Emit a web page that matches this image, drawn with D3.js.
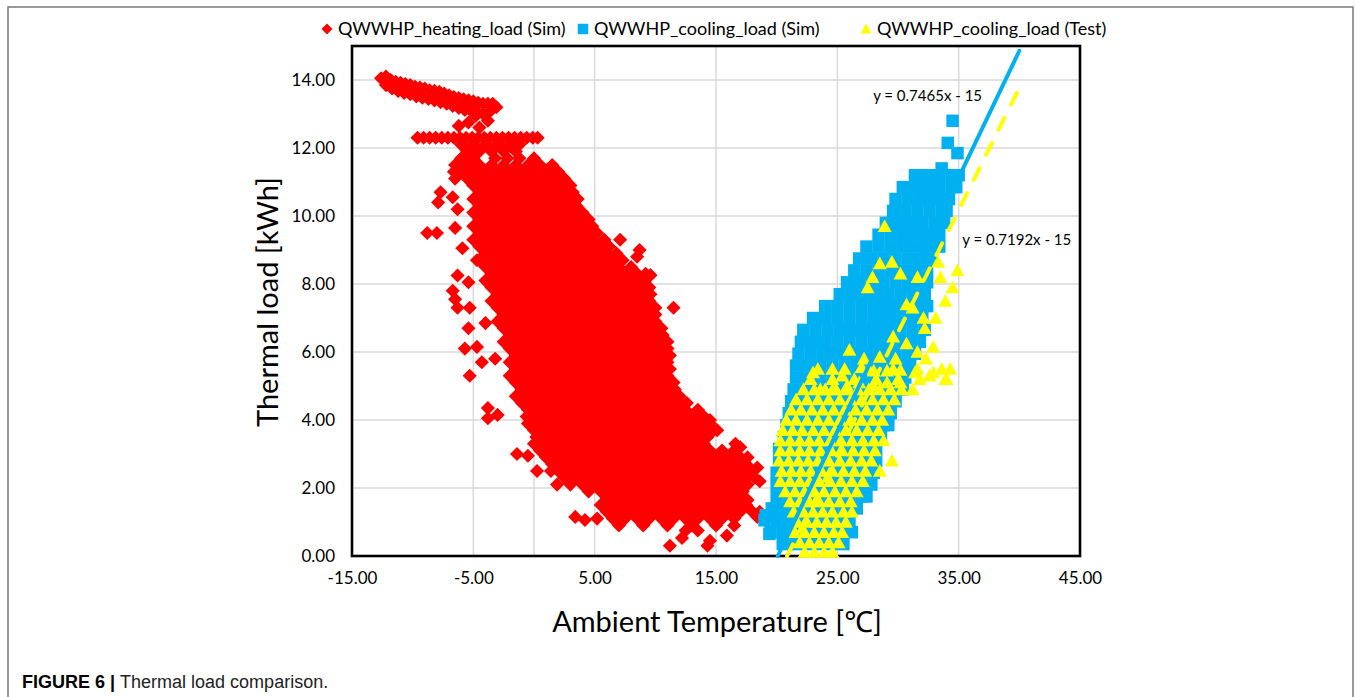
<!DOCTYPE html>
<html>
<head>
<meta charset="utf-8">
<script src="https://cdn.jsdelivr.net/npm/d3@7"></script>
<style>
body { margin: 0; background: #fff; }
svg { display: block; font-family: Lato, "Noto Sans", sans-serif; }
</style>
</head>
<body>
<svg width="1356" height="697"></svg>
<script>
var xTicks = [-15, -5, 5, 15, 25, 35, 45];
var yTicks = [0, 2, 4, 6, 8, 10, 12, 14];
var seriesNames = ["QWWHP_heating_load (Sim)", "QWWHP_cooling_load (Sim)", "QWWHP_cooling_load (Test)"];
var seriesColors = ["#ff0000", "#00b0f0", "#ffff00"];
var trendSlopes = [0.7465, 0.7192];
var trendIntercepts = [-15, -15];
var trendEndX = 40;
var trendLabels = ["y = 0.7465x - 15", "y = 0.7192x - 15"];

// heating load (Sim): rows of [load, temperatures]
var heatRows = [
  [12.3, [-9.6,-9.1,-8.6,-8.1,-7.6,-7.1,-6.6,-6.1,-5.6,-5.1,-4.6,-4.1,-3.6,-3.1,-2.6,-2.1,-1.6,-1.1,-0.6,-0.1,0.3]],
  [12.1, [-6,-5,-4,-3,-2,-1.2]],
  [11.9, [-5.5,-4.5,-3.5,-2.5,-1.5]],
  [11.7, [-6,-5,-3.2,-2.2,-1.2,0]],
  [11.5, [-6.5,-5.5,-4.5,-3.5,-2.5,-1.5,-0.5,0.5,1.5]],
  [11.3, [-6.6,-6,-5,-4,-3,-2,-1,0,1,2]],
  [11.1, [-6.5,-5.5,-4.5,-3.5,-2.5,-1.5,-0.5,0.5,1.5,2.5]],
  [10.9, [-5,-4,-3,-2,-1,0,1,2,3]],
  [10.7, [-4.5,-3.5,-2.5,-1.5,-0.5,0.5,1.5,2.5,3.2]],
  [10.5, [-5,-4,-3,-2,-1,0,1,2,3,3.6]],
  [10.3, [-4.5,-3.5,-2.5,-1.5,-0.5,0.5,1.5,2.5,3.5]],
  [10.1, [-5,-4,-3,-2,-1,0,1,2,3,4]],
  [9.9, [-4.5,-3.5,-2.5,-1.5,-0.5,0.5,1.5,2.5,3.5,4.5]],
  [9.7, [-5,-4,-3,-2,-1,0,1,2,3,4,4.8]],
  [9.5, [-4.5,-3.5,-2.5,-1.5,-0.5,0.5,1.5,2.5,3.5,4.5,5.2]],
  [9.3, [-5,-4,-3,-2,-1,0,1,2,3,4,5,5.8]],
  [9.1, [-4.5,-3.5,-2.5,-1.5,-0.5,0.5,1.5,2.5,3.5,4.5,5.5,6.2]],
  [8.9, [-4,-3,-2,-1,0,1,2,3,4,5,6,6.8]],
  [8.7, [-4.5,-3.5,-2.5,-1.5,-0.5,0.5,1.5,2.5,3.5,4.5,5.5,6.5,7.3]],
  [8.5, [-4,-3,-2,-1,0,1,2,3,4,5,6,7,8]],
  [8.3, [-3.5,-2.5,-1.5,-0.5,0.5,1.5,2.5,3.5,4.5,5.5,6.5,7.5,8.5,9.2]],
  [8.1, [-4,-3,-2,-1,0,1,2,3,4,5,6,7,8,9]],
  [7.9, [-3.5,-2.5,-1.5,-0.5,0.5,1.5,2.5,3.5,4.5,5.5,6.5,7.5,8.5,9.5]],
  [7.7, [-3,-2,-1,0,1,2,3,4,5,6,7,8,9,9.6]],
  [7.5, [-3.5,-2.5,-1.5,-0.5,0.5,1.5,2.5,3.5,4.5,5.5,6.5,7.5,8.5,9.5]],
  [7.3, [-3,-2,-1,0,1,2,3,4,5,6,7,8,9,10]],
  [7.1, [-2.5,-1.5,-0.5,0.5,1.5,2.5,3.5,4.5,5.5,6.5,7.5,8.5,9.5,10]],
  [6.9, [-3,-2,-1,0,1,2,3,4,5,6,7,8,9,10]],
  [6.7, [-2.5,-1.5,-0.5,0.5,1.5,2.5,3.5,4.5,5.5,6.5,7.5,8.5,9.5,10.5]],
  [6.5, [-2,-1,0,1,2,3,4,5,6,7,8,9,10,10.6]],
  [6.3, [-2.5,-1.5,-0.5,0.5,1.5,2.5,3.5,4.5,5.5,6.5,7.5,8.5,9.5,10.5,11]],
  [6.1, [-2,-1,0,1,2,3,4,5,6,7,8,9,10,11]],
  [5.9, [-1.5,-0.5,0.5,1.5,2.5,3.5,4.5,5.5,6.5,7.5,8.5,9.5,10.5,11.2]],
  [5.7, [-2,-1,0,1,2,3,4,5,6,7,8,9,10,11]],
  [5.5, [-1.5,-0.5,0.5,1.5,2.5,3.5,4.5,5.5,6.5,7.5,8.5,9.5,10.5,11.2]],
  [5.3, [-2,-1,0,1,2,3,4,5,6,7,8,9,10,11]],
  [5.1, [-1.5,-0.5,0.5,1.5,2.5,3.5,4.5,5.5,6.5,7.5,8.5,9.5,10.5,11.5]],
  [4.9, [-1,0,1,2,3,4,5,6,7,8,9,10,11,11.6]],
  [4.7, [-1.5,-0.5,0.5,1.5,2.5,3.5,4.5,5.5,6.5,7.5,8.5,9.5,10.5,11.5,12]],
  [4.5, [-1,0,1,2,3,4,5,6,7,8,9,10,11,12,12.6]],
  [4.3, [-0.5,0.5,1.5,2.5,3.5,4.5,5.5,6.5,7.5,8.5,9.5,10.5,11.5,12.5,13.5]],
  [4.1, [-0.6,0,1,2,3,4,5,6,7,8,9,10,11,12,13,14]],
  [3.9, [-0.5,0.5,1.5,2.5,3.5,4.5,5.5,6.5,7.5,8.5,9.5,10.5,11.5,12.5,13.5,14.5]],
  [3.7, [0,1,2,3,4,5,6,7,8,9,10,11,12,13,14,14.8]],
  [3.5, [0.2,0.5,1.5,2.5,3.5,4.5,5.5,6.5,7.5,8.5,9.5,10.5,11.5,12.5,13.5,14.3]],
  [3.3, [0,1,2,3,4,5,6,7,8,9,10,11,12,13,14,16.6]],
  [3.1, [0.5,1.5,2.5,3.5,4.5,5.5,6.5,7.5,8.5,9.5,10.5,11.5,12.5,13.5,14.5,15.5,16.5]],
  [2.9, [1,2,3,4,5,6,7,8,9,10,11,12,13,14,15,16,17]],
  [2.7, [1.5,2.5,3.5,4.5,5.5,6.5,7.5,8.5,9.5,10.5,11.5,12.5,13.5,14.5,15.5,16.5,17.5]],
  [2.5, [1.4,2,3,4,5,6,7,8,9,10,11,12,13,14,15,16,17,18]],
  [2.3, [2.5,3.5,4.5,5.5,6.5,7.5,8.5,9.5,10.5,11.5,12.5,13.5,14.5,15.5,16.5,17.5,18.2]],
  [2.1, [3,4,5,6,7,8,9,10,11,12,13,14,15,16,17,17.6]],
  [1.9, [4.5,5.5,6.5,7.5,8.5,9.5,10.5,11.5,12.5,13.5,14.5,15.5,16.5,17.2]],
  [1.7, [6,7,8,9,10,11,12,13,14,15,16,17]],
  [1.5, [5.5,6.5,7.5,8.5,9.5,10.5,11.5,12.5,13.5,14.5,15.5,16.5,17.5]],
  [1.3, [6,7,8,9,10,11,12,13,14,15,16,17,18]],
  [1.1, [6.5,7.5,8.5,9.5,10.5,11.5,12.5,13.5,14.5,15.5,16.5]],
  [0.9, [7,9,11,13,15]]
];
var heatExtra = [
  [-12.6,14.05],[-12.2,14.1],[-11.8,14],[-11.4,13.95],[-11,13.92],[-10.6,13.88],[-10.2,13.85],[-9.8,13.8],
  [-9.4,13.78],[-9,13.75],[-8.6,13.7],[-8.2,13.68],[-7.8,13.65],[-7.4,13.6],[-7,13.55],[-6.6,13.5],
  [-6.2,13.47],[-5.8,13.43],[-5.4,13.4],[-5,13.37],[-4.6,13.33],[-4.2,13.3],[-3.8,13.3],[-3.4,13.3],
  [-12.2,13.85],[-11.7,13.75],[-11.2,13.68],[-10.7,13.62],[-10.2,13.58],[-9.7,13.52],[-9.2,13.48],
  [-8.7,13.44],[-8.2,13.4],[-7.7,13.35],[-7.2,13.3],[-6.7,13.24],[-6.2,13.18],[-5.7,13.12],[-5.2,13.1],
  [-4.7,13.05],[-4.2,13],[-3.7,13.05],[-3.1,13.2],
  [-4.8,12.95],[-5.4,12.75],[-6.2,12.65],[-4.5,12.6],[-3.8,12.8],
  [-7.7,10.7],[-6.7,10.55],[-7.9,10.4],[-6.3,10.2],[-8.8,9.5],[-8,9.5],[-6.5,9.65],[-5.9,9.05],
  [-4.7,8.7],[-6.3,8.25],[-5.4,8.05],[-6.7,7.8],[-6.5,7.55],[-6.3,7.3],[-5.3,7.3],[-5.4,6.7],
  [-4,6.85],[-5.7,6.1],[-4.7,6.15],[-4.3,5.7],[-3.2,5.8],[-5.3,5.3],[-3.8,4.35],[-3,4.15],
  [-3.8,4.05],[-1.4,3],[-0.5,2.95],[0.25,2.5],[1.9,2.1],[3.4,1.15],[4.2,1.06],[5.2,1.1],
  [7.1,9.3],[8.7,9],[8.5,8.8],[9.6,8.26],[11.5,7.3],[14.5,4],[15.1,3.7],[17,3.2],[17.6,2.9],
  [18.4,2.6],[18.6,2.2],[17.6,1.65],[18.4,1.15],[18.6,1.3],
  [11.2,0.3],[12.2,0.53],[14.3,0.3],[14.5,0.45],[15.9,0.6],[12.5,0.75],[13.5,0.75],[16.5,0.9]
];

// cooling load (Sim)
var coolSimRows = [
  [0.35, [20.5,21.5,22.5,23.5,24.5,25.5]],
  [0.7, [19.5,20.5,21.5,22.5,23.5,24.5,25.5,26.2]],
  [1.05, [19,20,21,22,23,24,25,26]],
  [1.4, [19.6,20.6,21.6,22.6,23.6,24.6,25.6,26.6]],
  [1.75, [20,21,22,23,24,25,26,27,27.4]],
  [2.1, [20,21,22,23,24,25,26,27,27.8]],
  [2.45, [20,21,22,23,24,25,26,27,28]],
  [2.8, [20.2,21.2,22.2,23.2,24.2,25.2,26.2,27.2,28.2]],
  [3.15, [20.2,21.2,22.2,23.2,24.2,25.2,26.2,27.2,28.2]],
  [3.5, [20.6,21.6,22.6,23.6,24.6,25.6,26.6,27.6,28.6]],
  [3.85, [20.8,21.8,22.8,23.8,24.8,25.8,26.8,27.8,28.8,29.2]],
  [4.2, [21,22,23,24,25,26,27,28,29,29.4]],
  [4.55, [21.2,22.2,23.2,24.2,25.2,26.2,27.2,28.2,29.2,29.8]],
  [4.9, [21.4,22.4,23.4,24.4,25.4,26.4,27.4,28.4,29.4,30.4]],
  [5.25, [21.6,22.6,23.6,24.6,25.6,26.6,27.6,28.6,29.6,30.6]],
  [5.6, [21.6,22.6,23.6,24.6,25.6,26.6,27.6,28.6,29.6,30.6,31]],
  [5.95, [21.8,22.8,23.8,24.8,25.8,26.8,27.8,28.8,29.8,30.8,31.4]],
  [6.3, [22,23,24,25,26,27,28,29,30,31,31.8]],
  [6.65, [22.2,23.2,24.2,25.2,26.2,27.2,28.2,29.2,30.2,31.2,32.2]],
  [7, [23,24,25,26,27,28,29,30,31,32]],
  [7.35, [24,25,26,27,28,29,30,31,32,32.4]],
  [7.7, [25.2,26.2,27.2,28.2,29.2,30.2,31.2,32.2]],
  [8.05, [25.8,26.8,27.8,28.8,29.8,30.8,31.8,32.4]],
  [8.4, [26.4,27.4,28.4,29.4,30.4,31.4,32.4]],
  [8.75, [26.8,27.8,28.8,29.8,30.8,31.8,32.8]],
  [9.1, [27.4,28.4,29.4,30.4,31.4,32.4,33.4]],
  [9.45, [28.4,29.4,30.4,31.4,32.4,33.4]],
  [9.8, [29,30,31,32,33,33.8]],
  [10.15, [29.6,30.6,31.6,32.6,33.6,34]],
  [10.5, [29.8,30.8,31.8,32.8,33.8,34.2]],
  [10.85, [30.4,31.4,32.4,33.4,34.4,34.8]],
  [11.2, [31.4,32.4,33.4,34.4,35]]
];
var coolSimExtra = [[34.5,12.8],[34.1,12.15],[34.9,11.85],[33.6,11.4],[19.1,1.2],[19.4,0.65],[25.8,0.75],[23.6,0.6]];

// cooling load (Test)
var coolTestRows = [
  [5.8, [27.2,29.8,32.3]],
  [5.5, [23.4,25.6,27.6,29.6,31.6,33.6]],
  [5.2, [22.8,24.6,26.4,28.2,30,31.8,34]],
  [4.9, [22.2,23.1,24,24.9,25.8,26.7,27.6,28.5,29.4,30.3,31.2]],
  [4.6, [21.6,22.5,23.4,24.3,25.2,26.1,27,27.9,28.8,29.7]],
  [4.3, [21.2,22,22.9,23.8,24.7,25.6,26.5,27.4,28.3,29.2]],
  [4, [20.8,21.6,22.5,23.4,24.3,25.2,26.1,27,27.9,28.7]],
  [3.7, [20.5,21.3,22.1,23,23.9,24.8,25.7,26.6,27.5,28.4]],
  [3.4, [20.3,21.1,21.9,22.7,23.5,24.4,25.3,26.2,27.1,28,28.8]],
  [3.1, [20.3,21.1,21.9,22.7,23.6,24.5,25.4,26.3,27.2,28.1]],
  [2.8, [20.2,21,21.8,22.6,23.4,24.3,25.2,26.1,27,27.8,29.5]],
  [2.5, [20.4,21.2,22,22.8,23.7,24.6,25.5,26.4,27.3,28.5]],
  [2.2, [20.3,21.1,21.9,22.7,23.5,24.4,25.3,26.2,27.1]],
  [1.9, [20.7,21.5,22.3,23.1,23.9,24.8,25.7,26.6]],
  [1.6, [21.1,21.9,22.7,23.5,24.3,25.2,26.1]],
  [1.3, [21.4,22.2,23,23.8,24.6,25.5,26.2]],
  [1, [21.7,22.5,23.3,24.1,24.9,25.7]],
  [0.7, [21.5,22.3,23.1,23.9,24.7,25.4]],
  [0.4, [21.9,22.7,23.5,24.3,25.1]],
  [0.12, [22.3,23.1,23.9,24.6]]
];
var coolTestExtra = [
  [28.9,9.7],[28.5,8.6],[29.5,8.65],[30.2,8.3],[31.6,8.2],[27.9,8.2],[27.5,7.9],[33.3,8.65],
  [34.9,8.4],[33.5,8.2],[34.5,7.9],[33.9,7.5],[30.7,7.4],[31.2,7.3],[32.1,7],[33.1,7],
  [32.2,6.7],[29.6,6.45],[26,6.06],[30.7,6.25],[32.9,6.15],[28.5,5.85],[31.6,6],[23,5.4],
  [24.6,5.5],[27,5.55],[28,5.45],[29.1,5.45],[30.2,5.47],[31.4,5.4],[32.9,5.4],[34.3,5.5],
  [33.9,5.2],[32.6,5.3],[25.4,5.3],[23.6,4.9],[24.6,4.9],[25.8,5],[26.8,5.1],[28,5],
  [29.1,5.1],[30.2,5.1]
];

function flatten(rows, extra) {
  var pts = [];
  rows.forEach(function(r) { r[1].forEach(function(t) { pts.push([t, r[0]]); }); });
  return pts.concat(extra);
}
var heatPoints = flatten(heatRows, heatExtra);
var coolSimPoints = flatten(coolSimRows, coolSimExtra);
var coolTestPoints = flatten(coolTestRows, coolTestExtra);

var svg = d3.select("svg");
var plot = {left: 352, right: 1080, top: 46, bottom: 556};

var x = d3.scaleLinear().domain([-15, 45]).range([plot.left, plot.right]);
var y = d3.scaleLinear().domain([0, 15]).range([plot.bottom, plot.top]);

// marker shapes
var diamond = {draw: function(c, s) { var h = Math.sqrt(s / 2); c.moveTo(0, -h); c.lineTo(h, 0); c.lineTo(0, h); c.lineTo(-h, 0); c.closePath(); }};
var triangle = {draw: function(c, s) { var w = Math.sqrt(s); c.moveTo(0, -w * 0.52); c.lineTo(w * 0.52, w * 0.43); c.lineTo(-w * 0.52, w * 0.43); c.closePath(); }};
var shapes = [d3.symbol(diamond, 100), d3.symbol(d3.symbolSquare, 156), d3.symbol(triangle, 180)];

// outer frame
svg.append("path")
  .attr("d", "M8,697V7H1353V697")
  .attr("fill", "none")
  .attr("stroke", "#7a7a7a")
  .attr("stroke-width", 1.5);

// gridlines
svg.append("g").selectAll("line")
  .data(yTicks.filter(d => d > 0))
  .enter().append("line")
  .attr("x1", plot.left).attr("x2", plot.right)
  .attr("y1", d => y(d)).attr("y2", d => y(d))
  .attr("stroke", "#d9d9d9").attr("stroke-width", 1.5);

svg.append("g").selectAll("line")
  .data([-5, 0, 5, 15, 25, 35])
  .enter().append("line")
  .attr("x1", d => x(d)).attr("x2", d => x(d))
  .attr("y1", plot.top).attr("y2", plot.bottom)
  .attr("stroke", "#d9d9d9").attr("stroke-width", 1.5);

svg.append("rect")
  .attr("x", plot.left).attr("y", plot.top)
  .attr("width", plot.right - plot.left).attr("height", plot.bottom - plot.top)
  .attr("fill", "none").attr("stroke", "#000").attr("stroke-width", 2.6);

// points
[heatPoints, coolSimPoints, coolTestPoints].forEach(function(pts, i) {
  svg.append("g").selectAll("path")
    .data(pts)
    .enter().append("path")
    .attr("d", shapes[i])
    .attr("transform", d => "translate(" + x(d[0]) + "," + y(d[1]) + ")")
    .attr("fill", seriesColors[i]);
});

// trend lines
var line = d3.line().x(d => x(d[0])).y(d => y(d[1]));
trendSlopes.forEach(function(m, i) {
  var b = trendIntercepts[i];
  svg.append("path")
    .attr("d", line([[-b / m, 0], [trendEndX, m * trendEndX + b]]))
    .attr("fill", "none")
    .attr("stroke", i == 0 ? seriesColors[1] : seriesColors[2])
    .attr("stroke-width", 4)
    .attr("stroke-linecap", "round")
    .attr("stroke-dasharray", i == 0 ? null : "13,15");
});

var labelPos = [[27.95, 13.53], [35.3, 9.3]];
trendLabels.forEach(function(t, i) {
  svg.append("text")
    .attr("x", x(labelPos[i][0])).attr("y", y(labelPos[i][1]))
    .attr("dy", "0.35em")
    .attr("font-size", 15)
    .attr("fill", "#000")
    .text(t);
});

// axes
var yAxis = svg.append("g")
  .attr("transform", "translate(" + plot.left + ",0)")
  .call(d3.axisLeft(y).tickValues(yTicks).tickFormat(d => d.toFixed(2)).tickSize(0).tickPadding(17));
var xAxis = svg.append("g")
  .attr("transform", "translate(0," + plot.bottom + ")")
  .call(d3.axisBottom(x).tickValues(xTicks).tickFormat(d => d.toFixed(2)).tickSize(0).tickPadding(16));
[yAxis, xAxis].forEach(function(a) {
  a.select(".domain").remove();
  a.selectAll("text").attr("font-size", 17).attr("font-family", "Lato, 'Noto Sans', sans-serif").attr("fill", "#000");
});

svg.append("text")
  .attr("transform", "translate(268,302) rotate(-90)")
  .attr("text-anchor", "middle")
  .attr("dy", "0.35em")
  .attr("font-size", 29)
  .text("Thermal load [kWh]");

svg.append("text")
  .attr("x", 717).attr("y", 622)
  .attr("text-anchor", "middle")
  .attr("dy", "0.35em")
  .attr("font-size", 29)
  .text("Ambient Temperature [℃]");

// legend
var legendX = [327, 583, 866];
seriesNames.forEach(function(n, i) {
  svg.append("path")
    .attr("d", i == 0 ? d3.symbol(diamond, 60)() : i == 1 ? d3.symbol(d3.symbolSquare, 110)() : d3.symbol(triangle, 110)())
    .attr("transform", "translate(" + legendX[i] + ",29)")
    .attr("fill", seriesColors[i]);
  svg.append("text")
    .attr("x", legendX[i] + 11).attr("y", 29)
    .attr("dy", "0.35em")
    .attr("font-size", 18)
    .text(n);
});

// caption
var cap = svg.append("text")
  .attr("x", 22).attr("y", 688)
  .attr("font-family", "'Liberation Sans', Arial, sans-serif")
  .attr("font-size", 18);
cap.append("tspan").attr("font-weight", "bold").text("FIGURE 6 | ");
cap.append("tspan").attr("fill", "#222").text("Thermal load comparison.");
</script>
</body>
</html>
